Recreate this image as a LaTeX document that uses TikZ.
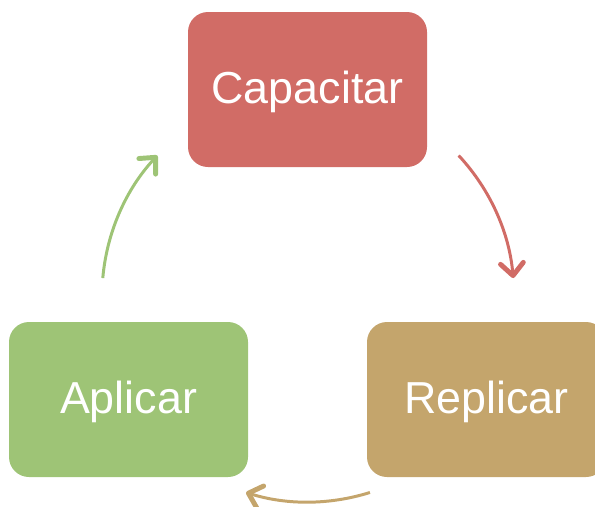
\documentclass[tikz,border=0pt]{standalone}
\usepackage{fontspec}
\setmainfont{Liberation Sans}
\usepackage{xcolor}
\usepackage{tikz}
\usetikzlibrary{arrows.meta, positioning, calc}
\definecolor{cyclered}{RGB}{209,108,102}
\definecolor{cyclegreen}{RGB}{158,196,118}
\definecolor{cycletan}{RGB}{196,165,108}

\begin{document}
\begin{tikzpicture}[
    step box/.style={rectangle, rounded corners=0.4cm, minimum width=4.78cm, minimum height=3.1cm, align=center, text=white, text depth=2pt, font=\fontsize{25.5}{30}\selectfont},
    cyclearrow/.style={line width=1.7pt, -{Straight Barb[length=7pt, width=13pt, line width=2.8pt, round]}}
]
\useasboundingbox (0,0) rectangle (11.9,-10.12);

\node[step box, fill=cyclered] (cap) at (6.15,-1.79) {Capacitar};
\node[step box, fill=cycletan] (rep) at (9.73,-7.99) {Replicar};
\node[step box, fill=cyclegreen] (apl) at (2.57,-7.99) {Aplicar};

\coordinate (ctr) at (6.16,-5.92);
\draw[cyclearrow, cyclered] (ctr) ++(43:4.12) arc[start angle=43, end angle=5, radius=4.12];
\draw[cyclearrow, cycletan] (ctr) ++(-72.5:4.12) arc[start angle=-72.5, end angle=-107.5, radius=4.12];
\draw[cyclearrow, cyclegreen] (ctr) ++(175:4.12) arc[start angle=175, end angle=137, radius=4.12];
\end{tikzpicture}
\end{document}
